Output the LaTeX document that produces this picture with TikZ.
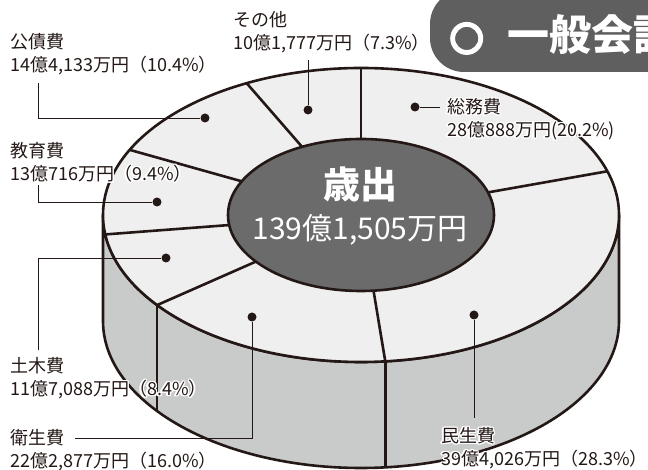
\documentclass[tikz,border=0pt]{standalone}
\usepackage{fontspec}
\newfontfamily\jp{Noto Sans CJK JP}
\newfontfamily\ringfont[FakeBold=10]{Noto Sans CJK JP}
\usepackage{contour}
\contourlength{1.3pt}
\usetikzlibrary{positioning}
\definecolor{ink}{HTML}{231815}
\definecolor{topgray}{HTML}{EFEFEF}
\definecolor{sidegray}{HTML}{C9CACA}
\definecolor{hubgray}{HTML}{6B6B6B}
\definecolor{titlegray}{HTML}{5F5F5F}
\tikzset{
  rim/.style={draw=ink, line width=2.6pt},
  divider/.style={draw=ink, line width=2.6pt},
  leader/.style={draw=ink, line width=0.9pt},
  itemdot/.style={circle, fill=ink, inner sep=0pt, minimum size=9pt},
  itemtext/.style={font=\jp\fontsize{18}{23}\selectfont, align=left, anchor=west, inner sep=0pt, text=ink},
  titletext/.style={font=\jp\bfseries\fontsize{42}{42}\selectfont, text=white, inner sep=0pt},
}
\newcommand{\halo}[1]{\contour{white}{#1}}

\begin{document}
\begin{tikzpicture}[x=1pt,y=1pt]
    \useasboundingbox (0,0) rectangle (648,470);
    %% title
    \fill[titlegray, rounded corners=34pt] (430,398) rectangle (720,480);
    \node[titletext, anchor=west] (title) at (450,435) {{\ringfont\fontsize{33}{33}\selectfont ○}\hspace{24pt}一般会計};
    %% cylinder
    \coordinate (top) at (361,255);
    \coordinate (base) at (361,149);
    % side wall
    \filldraw[rim, fill=sidegray] ([shift={(180:258 and 147)}]top) -- ([shift={(180:258 and 147)}]base)
        arc[start angle=180, end angle=360, x radius=258, y radius=147]
        -- ([shift={(0:258 and 147)}]top)
        arc[start angle=0, end angle=-180, x radius=258, y radius=147] -- cycle;
    \foreach \ang in {-84.6,-142.2}
        \draw[divider] ([shift={(\ang:258 and 147)}]top) -- ([shift={(\ang:258 and 147)}]base);
    % top face
    \filldraw[rim, fill=topgray] (top) ellipse[x radius=258, y radius=147];
    \foreach \ang in {90,17.3,-84.6,-142.2,-172.4,153.7,116.3}
        \draw[divider] ([shift={(\ang:133 and 76)}]top) -- ([shift={(\ang:258 and 147)}]top);
    % hub
    \filldraw[rim, fill=hubgray] (top) ellipse[x radius=133, y radius=76];
    \node[font=\jp\bfseries\fontsize{37}{37}\selectfont, text=white] (saishutsu) at (360,286) {歳出};
    \node[font=\jp\fontsize{30}{30}\selectfont, text=white, below=6pt of saishutsu] (total) {139億1,505万円};

    %% dots
    \node[itemdot] (sonota-dot) at (308,360) {};
    \node[itemdot] (soumu-dot) at (415,363) {};
    \node[itemdot] (kousai-dot) at (205,352) {};
    \node[itemdot] (kyouiku-dot) at (157,268) {};
    \node[itemdot] (doboku-dot) at (166,212) {};
    \node[itemdot] (eisei-dot) at (252,153) {};
    \node[itemdot] (minsei-dot) at (474,155) {};
    %% labels
    \node[itemtext] (sonota) at (233,438) {その他\\10億1,777万円（7.3\%）};
    \node[itemtext] (soumu) at (447,350) {\halo{総務費}\\\halo{28億888万円(20.2\%)}};
    \node[itemtext] (kousai) at (10,416) {公債費\\14億4,133万円（10.4\%）};
    \node[itemtext] (kyouiku) at (10,307) {教育費\\\halo{13億716万円（9.4\%）}};
    \node[itemtext] (doboku) at (10,91) {土木費\\\halo{11億7,088万円（8.4\%）}};
    \node[itemtext] (eisei) at (10,20) {衛生費\\22億2,877万円（16.0\%）};
    \node[itemtext] (minsei) at (441,21) {\halo{民生費}\\\halo{39億4,026万円（28.3\%}）};
    %% leaders
    \coordinate (sonota-end) at (308,410);
    \coordinate (soumu-end) at (440,363);
    \coordinate (kousai-end) at (38,387);
    \coordinate (kyouiku-end) at (38,285);
    \coordinate (doboku-end) at (38,120);
    \coordinate (eisei-end) at (75,32);
    \coordinate (minsei-end) at (474,52);
    \draw[leader] (sonota-end) -- (sonota-dot);
    \draw[leader] (soumu-end) -- (soumu-dot);
    \draw[leader] (kousai-end) |- (kousai-dot);
    \draw[leader] (kyouiku-end) |- (kyouiku-dot);
    \draw[leader] (doboku-end) |- (doboku-dot);
    \draw[leader] (eisei-end) -| (eisei-dot);
    \draw[leader] (minsei-end) -- (minsei-dot);
\end{tikzpicture}
\end{document}
